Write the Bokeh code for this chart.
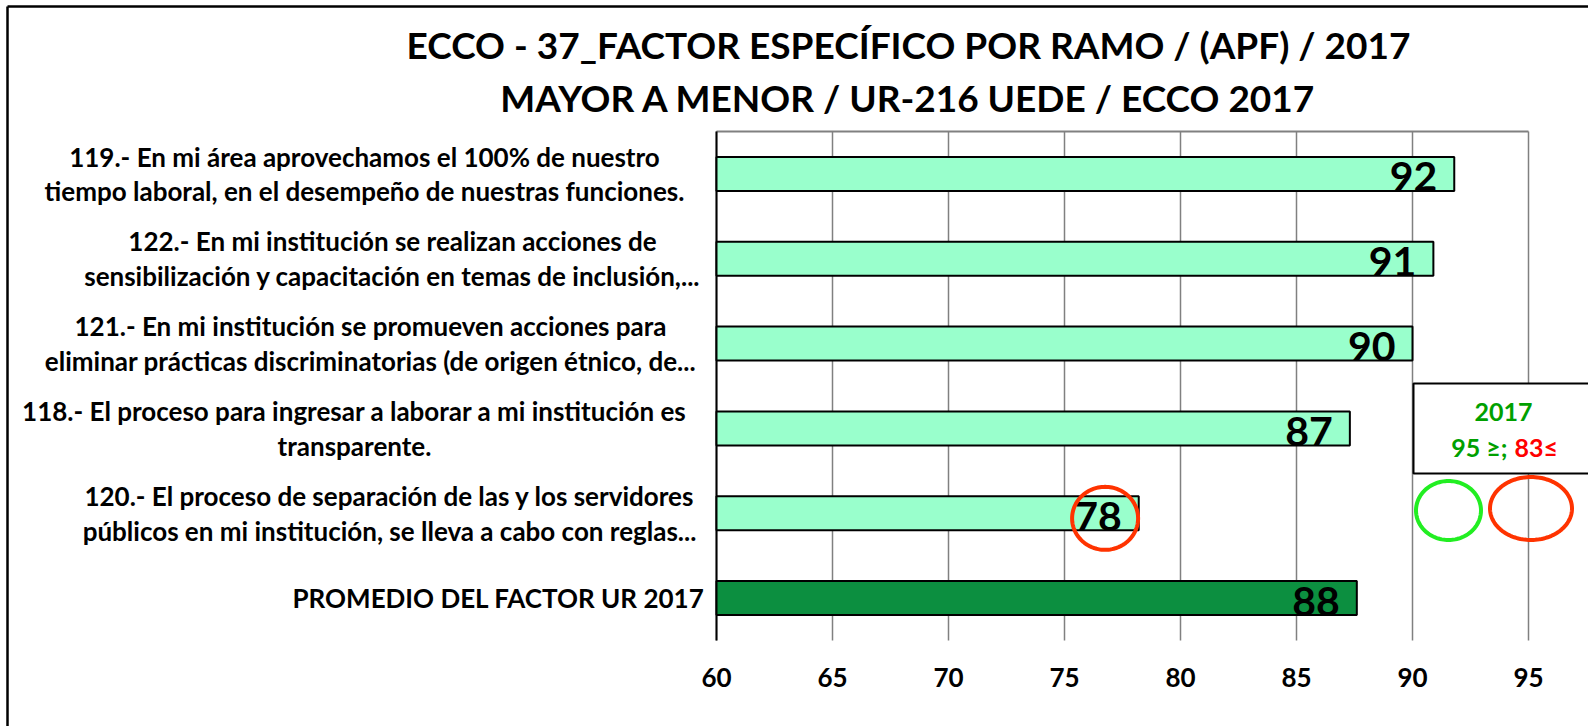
import numpy as np
from bokeh.plotting import figure
from bokeh.models import Range1d, PolyAnnotation, ColumnDataSource
from bokeh.embed import file_html
from bokeh.resources import INLINE
from bokeh.core.properties import value

# ---------------- data ----------------
title_lines = ["ECCO - 37_FACTOR ESPECÍFICO POR RAMO / (APF) / 2017",
               "MAYOR A MENOR / UR-216 UEDE / ECCO 2017"]
categories = [
    "119.- En mi área aprovechamos el 100% de nuestro\ntiempo laboral, en el desempeño de nuestras funciones.",
    "122.- En mi institución se realizan acciones de\nsensibilización y capacitación en temas de inclusión,...",
    "121.- En mi institución se promueven acciones para\neliminar prácticas discriminatorias (de origen étnico, de...",
    "118.- El proceso para ingresar a laborar a mi institución es\ntransparente.",
    "120.- El proceso de separación de las y los servidores\npúblicos en mi institución, se lleva a cabo con reglas...",
    "PROMEDIO DEL FACTOR UR 2017",
]
scores = [91.8, 90.9, 90.0, 87.3, 78.2, 87.6]
score_labels = ["92", "91", "90", "87", "78", "88"]
x_ticks = [60, 65, 70, 75, 80, 85, 90, 95]
legend_year = "2017"
legend_good = "95 ≥;"
legend_bad = "83≤"
flagged_index = 4          # the bar circled in red (78)

# ---------------- layout / style ----------------
W, H = 1588, 726
CL, CR, CT, CB = 716, 1528, 131, 640      # chart area in page pixels
X0, X1 = x_ticks[0], x_ticks[-1]
PXX = (CR - CL) / (X1 - X0)
PXY = (CB - CT) / len(categories)
FONT = value("Lato")
LIGHT = "#99FFCC"
DARK = "#0C8F40"
GRID = "#808080"
label_centers = [364, 392, 370, 354, 389, 498]   # page px, centre of each label block


def dx(X):      # page pixel -> data x
    return X0 + (X - CL) / PXX


def dy(Y):      # page pixel -> data y
    return -0.5 + (Y - CT) / PXY


ncat = len(categories)
ypos = list(range(ncat))
colors = [LIGHT] * (ncat - 1) + [DARK]

p = figure(width=W, height=H,
           x_range=Range1d(dx(0), dx(W)), y_range=Range1d(dy(H), dy(0)),
           output_backend="svg", toolbar_location=None,
           x_axis_location=None, y_axis_location=None,
           min_border=0)
p.min_border_left = p.min_border_right = p.min_border_top = p.min_border_bottom = 0
p.outline_line_color = None
p.grid.visible = False
p.background_fill_color = "white"
p.border_fill_color = "white"

TXT = dict(text_font=FONT, text_font_style="bold", text_color="black")

# outer chart border (left and top edges; the others fall outside the picture)
p.segment(x0=[dx(7), dx(7)], x1=[dx(7), dx(W + 40)], y0=[dy(6), dy(6)],
          y1=[dy(H + 40), dy(6)], line_color="black", line_width=2.5)

# grid lines, top border, category axis line
p.segment(x0=x_ticks, x1=x_ticks, y0=-0.5, y1=ncat - 0.5, line_color=GRID, line_width=1.5)
p.segment(x0=[X0], x1=[X1], y0=[-0.5], y1=[-0.5], line_color=GRID, line_width=2)
p.segment(x0=[X0], x1=[X0], y0=[-0.5], y1=[ncat - 0.5], line_color="black", line_width=2)

# value-axis tick labels
p.text(x=x_ticks, y=[dy(677)] * len(x_ticks), text=[str(t) for t in x_ticks],
       text_align="center", text_baseline="middle", text_font_size="26px", **TXT)

# bars
src = ColumnDataSource(dict(y=ypos, score=scores, lab=score_labels, color=colors))
p.hbar(y="y", left=X0, right="score", height=0.4, fill_color="color",
       line_color="black", line_width=2, source=src)
p.text(x="score", y="y", text="lab", x_offset=-17, y_offset=3, text_align="right",
       text_baseline="middle", text_font_size="41px", source=src, **TXT)

# category labels
lx, ly, lt = [], [], []
for i, (cat, cx) in enumerate(zip(categories, label_centers)):
    lines = cat.split("\n")
    n = len(lines)
    for j, line in enumerate(lines):
        lx.append(dx(cx))
        ly.append(i + (j - (n - 1) / 2) * 0.41)
        lt.append(line)
p.text(x=lx, y=ly, text=lt, text_align="center", text_baseline="middle",
       text_font_size="26px", **TXT)

# titles
p.text(x=[dx(908)] * 2, y=[dy(44), dy(97)], text=title_lines, text_align="center",
       text_baseline="middle", text_font_size="37px", **TXT)

# legend box (its right edge lies outside the picture)
p.quad(left=[dx(1413)], right=[dx(W + 40)], top=[dy(383)], bottom=[dy(473)],
       fill_color="white", line_color="black", line_width=2)
p.text(x=[dx(1503)], y=[dy(411)], text=[legend_year], text_align="center",
       text_baseline="middle", text_font=FONT, text_font_style="bold",
       text_font_size="25px", text_color="#00A000")
p.text(x=[dx(1507)], y=[dy(446)], text=[legend_good], text_align="right",
       text_baseline="middle", text_font=FONT, text_font_style="bold",
       text_font_size="25px", text_color="#00A000")
p.text(x=[dx(1514)], y=[dy(446)], text=[legend_bad], text_align="left",
       text_baseline="middle", text_font=FONT, text_font_style="bold",
       text_font_size="25px", text_color="#FF0000")

# circles
t = np.linspace(0, 2 * np.pi, 121)


def ring(cx, cy, rx, ry, color):
    p.add_layout(PolyAnnotation(xs=list(cx + rx / PXX * np.cos(t)),
                                ys=list(cy + ry / PXY * np.sin(t)),
                                fill_color=None, fill_alpha=0, line_color=color,
                                line_alpha=1, line_width=4))


ring(scores[flagged_index] - 1.45, flagged_index + 0.06, 33, 31.5, "#FF3300")
ring(dx(1448), dy(510), 32.5, 29.5, "#22EE22")
ring(dx(1530.5), dy(508), 41, 31.5, "#FF3300")

open("out.html", "w").write(file_html(p, INLINE))
